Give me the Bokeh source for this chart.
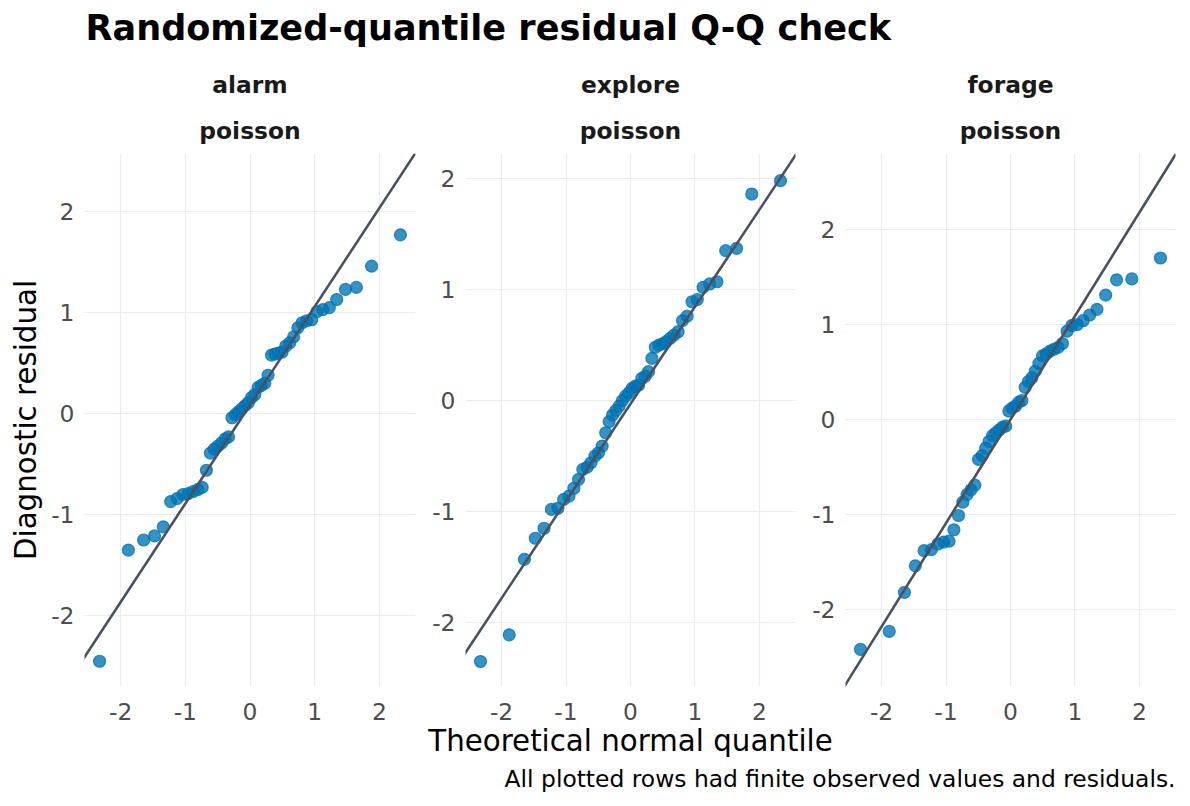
from bokeh.plotting import figure
from bokeh.layouts import column, row
from bokeh.models import Range1d, FixedTicker, Slope, ColumnDataSource
from bokeh.core.properties import value
from bokeh.embed import file_html
from bokeh.resources import INLINE

# Theoretical normal quantiles for n = 50 plotting positions
theoretical_q = [
    -2.326, -1.881, -1.645, -1.476, -1.341, -1.227, -1.126, -1.036, -0.954, -0.878,
    -0.806, -0.739, -0.674, -0.613, -0.553, -0.496, -0.440, -0.385, -0.332, -0.279,
    -0.228, -0.176, -0.126, -0.075, -0.025, 0.025, 0.075, 0.126, 0.176, 0.228,
    0.279, 0.332, 0.385, 0.440, 0.496, 0.553, 0.613, 0.674, 0.739, 0.806,
    0.878, 0.954, 1.036, 1.126, 1.227, 1.341, 1.476, 1.645, 1.881, 2.326,
]

# Sorted randomized-quantile residuals per behaviour
alarm_resid = [
    -2.45, -1.35, -1.25, -1.21, -1.12, -0.87, -0.84, -0.80, -0.79, -0.77,
    -0.75, -0.73, -0.56, -0.39, -0.35, -0.32, -0.29, -0.25, -0.23, -0.04,
    -0.01, 0.02, 0.05, 0.08, 0.11, 0.16, 0.19, 0.26, 0.28, 0.30,
    0.38, 0.58, 0.59, 0.60, 0.61, 0.67, 0.70, 0.76, 0.85, 0.90,
    0.92, 0.93, 1.01, 1.03, 1.05, 1.13, 1.23, 1.25, 1.46, 1.77,
]
explore_resid = [
    -2.35, -2.11, -1.43, -1.24, -1.15, -0.98, -0.97, -0.89, -0.86, -0.79,
    -0.71, -0.62, -0.60, -0.56, -0.50, -0.47, -0.41, -0.29, -0.19, -0.13,
    -0.09, -0.05, 0.00, 0.04, 0.07, 0.11, 0.13, 0.14, 0.20, 0.22,
    0.26, 0.38, 0.48, 0.50, 0.51, 0.53, 0.56, 0.59, 0.62, 0.72,
    0.76, 0.89, 0.91, 1.02, 1.05, 1.07, 1.35, 1.37, 1.86, 1.98,
]
forage_resid = [
    -2.42, -2.23, -1.82, -1.54, -1.38, -1.37, -1.31, -1.29, -1.28, -1.16,
    -1.01, -0.87, -0.79, -0.74, -0.69, -0.42, -0.38, -0.30, -0.23, -0.17,
    -0.14, -0.11, -0.08, -0.07, 0.09, 0.12, 0.14, 0.18, 0.20, 0.34,
    0.40, 0.44, 0.51, 0.59, 0.67, 0.69, 0.72, 0.74, 0.76, 0.80,
    0.93, 0.99, 1.00, 1.04, 1.10, 1.16, 1.31, 1.47, 1.48, 1.70,
]

panel_names = ["alarm", "explore", "forage"]
family_label = "poisson"
# reference line (intercept, slope) per panel
line_intercepts = [0.085, -0.03, 0.0]
line_slopes = [0.975, 0.875, 1.09]
x_ticks = [-2, -1, 0, 1, 2]
y_ticks = [-2, -1, 0, 1, 2]

title_text = "Randomized-quantile residual Q-Q check"
x_title = "Theoretical normal quantile"
y_title = "Diagnostic residual"
caption_text = "All plotted rows had finite observed values and residuals."

FONT = value("DejaVu Sans")
POINT_COLOR = "#0072B2"
LINE_COLOR = "#4b505e"
GRID_COLOR = "#ebebeb"
BASE_PX = 29.3
SMALL_PX = 23.4
TITLE_PX = 35.1

x_range_limits = (-2.559, 2.559)
y_range_limits = [(-2.70, 2.575), (-2.575, 2.225), (-2.81, 2.80)]
frame_widths = [331, 330, 330]
left_borders = [84, 45, 45]
right_borders = [5, 5, 15]

residual_sets = [alarm_resid, explore_resid, forage_resid]
tick_text = {t: str(t) for t in x_ticks}


def make_panel(i):
    p = figure(
        title=None,
        frame_width=frame_widths[i], frame_height=533,
        min_border_left=left_borders[i], min_border_right=right_borders[i],
        min_border_top=0, min_border_bottom=39,
        x_range=Range1d(*x_range_limits), y_range=Range1d(*y_range_limits[i]),
        output_backend="svg", toolbar_location=None,
    )
    p.outline_line_color = None
    p.background_fill_color = "white"
    p.border_fill_color = "white"
    for ax in (p.xaxis[0], p.yaxis[0]):
        ax.axis_line_color = None
        ax.major_tick_line_color = None
        ax.minor_tick_line_color = None
        ax.major_tick_out = 0
        ax.major_tick_in = 0
        ax.minor_tick_out = 0
        ax.minor_tick_in = 0
        ax.major_label_text_font = "DejaVu Sans"
        ax.major_label_text_font_size = f"{SMALL_PX}px"
        ax.major_label_text_color = "#4d4d4d"
        ax.major_label_overrides = tick_text
    p.xaxis.major_label_standoff = 16
    p.yaxis.major_label_standoff = 10
    p.xaxis.ticker = FixedTicker(ticks=x_ticks)
    p.yaxis.ticker = FixedTicker(ticks=y_ticks)
    p.xgrid.ticker = FixedTicker(ticks=x_ticks)
    p.ygrid.ticker = FixedTicker(ticks=y_ticks)
    p.grid.grid_line_color = GRID_COLOR
    p.grid.grid_line_width = 1.2
    if i == 0:
        p.yaxis.axis_label = y_title
        p.yaxis.axis_label_text_font = "DejaVu Sans"
        p.yaxis.axis_label_text_font_size = f"{BASE_PX}px"
        p.yaxis.axis_label_text_font_style = "normal"
        p.yaxis.axis_label_text_color = "black"
        p.yaxis.axis_label_standoff = 5

    p.add_layout(Slope(gradient=line_slopes[i], y_intercept=line_intercepts[i],
                       line_color=LINE_COLOR, line_width=2.6))

    src = ColumnDataSource(dict(q=theoretical_q, r=residual_sets[i]))
    p.scatter("q", "r", source=src, size=12, fill_color=POINT_COLOR, fill_alpha=0.78,
              line_color=POINT_COLOR, line_alpha=0.78, line_width=1.2)
    return p


panels = [make_panel(i) for i in range(3)]

# header: main title and facet strips
header = figure(title=None, width=1190, height=153, x_range=Range1d(0, 1190),
                y_range=Range1d(153, 0), output_backend="svg", toolbar_location=None,
                x_axis_location=None, y_axis_location=None, min_border=0)
header.outline_line_color = None
header.grid.visible = False
header.text(x=[85], y=[27], text=[title_text], text_font=FONT, text_font_style="bold",
            text_font_size=f"{TITLE_PX}px", text_color="black", text_align="left",
            text_baseline="alphabetic")
strip_x = [249.5, 630, 1010]
header.text(x=strip_x, y=[84] * 3, text=panel_names, text_font=FONT,
            text_font_style="bold", text_font_size=f"{SMALL_PX}px", text_color="#1a1a1a",
            text_align="center", text_baseline="alphabetic")
header.text(x=strip_x, y=[130] * 3, text=[family_label] * 3, text_font=FONT,
            text_font_style="bold", text_font_size=f"{SMALL_PX}px", text_color="#1a1a1a",
            text_align="center", text_baseline="alphabetic")

# footer: shared x-axis title and caption
footer = figure(title=None, width=1190, height=81, x_range=Range1d(0, 1190),
                y_range=Range1d(81, 0), output_backend="svg", toolbar_location=None,
                x_axis_location=None, y_axis_location=None, min_border=0)
footer.outline_line_color = None
footer.grid.visible = False
footer.text(x=[630], y=[15], text=[x_title], text_font=FONT, text_font_size=f"{BASE_PX}px",
            text_color="black", text_align="center", text_baseline="alphabetic")
footer.text(x=[1175], y=[53], text=[caption_text], text_font=FONT,
            text_font_size=f"{SMALL_PX}px", text_color="black", text_align="right",
            text_baseline="alphabetic")

layout = column(header, row(*panels, spacing=0), footer, spacing=0)

with open("out.html", "w") as f:
    f.write(file_html(layout, INLINE))
